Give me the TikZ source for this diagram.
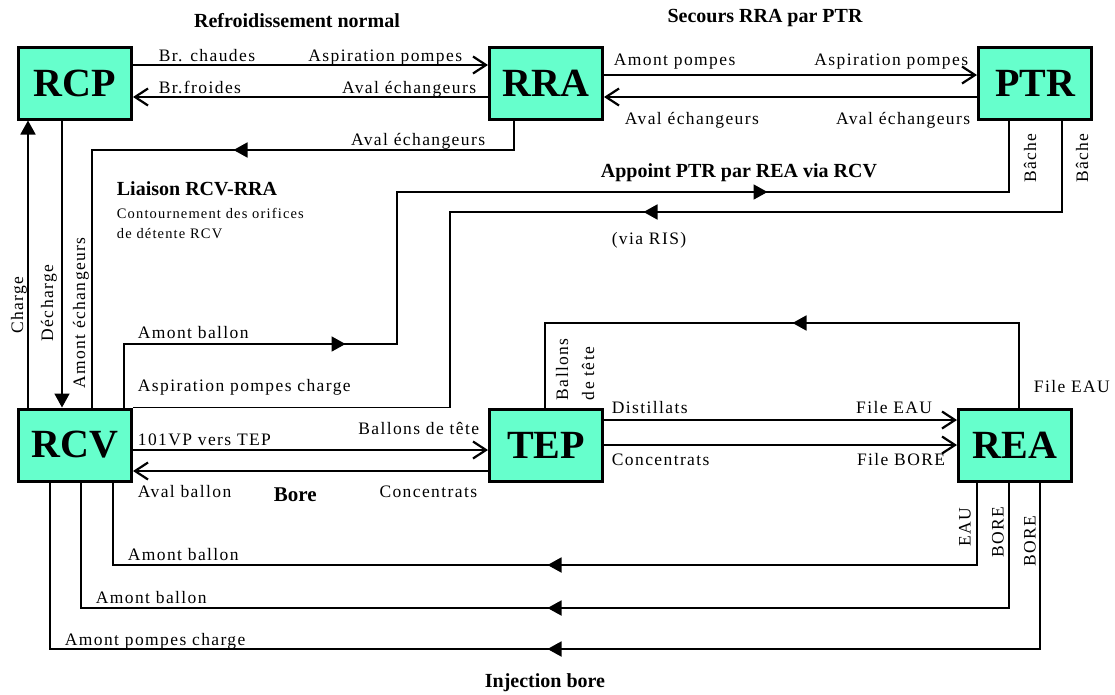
\documentclass[tikz,border=0pt]{standalone}
\usepackage{fontspec}
\setmainfont{Liberation Serif}
\newfontfamily\lblfont[LetterSpace=8]{Liberation Serif}
\usetikzlibrary{positioning,arrows.meta,decorations.markings}
\definecolor{boxfill}{RGB}{102,255,204}

\begin{document}
\begin{tikzpicture}[x=1pt,y=-1pt,line width=1.8pt,on grid,
   unit/.style={draw,line width=3pt,fill=boxfill,minimum width=113pt,minimum height=72pt,
     inner sep=0pt,font=\fontsize{40}{40}\selectfont\bfseries},
   open/.style={-{Straight Barb[length=13pt,width=17pt,line width=2.2pt]}},
   full/.style={-{Triangle[length=14pt,width=15pt]}},
   mid/.style={postaction={decorate,decoration={markings,
     mark=at position #1 with {\arrow{Triangle[length=14pt,width=15pt]}}}}}]
 \useasboundingbox (0,0) rectangle (1115,694);
 \node[unit] (RCP) at (75,83) {RCP};
 \node[unit] (RRA) [right=471pt of RCP] {RRA};
 \node[unit] (PTR) [right=489pt of RRA] {PTR};
 \node[unit] (RCV) [below=362pt of RCP] {RCV};
 \node[unit] (TEP) [right=471pt of RCV] {TEP};
 \node[unit] (REA) [right=469pt of TEP] {REA};
 % liaisons
 \draw[open] (RCP.east |- 0,65) -- (RRA.west |- 0,65);
 \draw[open] (RRA.west |- 0,97) -- (RCP.east |- 0,97);
 \draw[open] (RRA.east |- 0,75) -- (PTR.west |- 0,75);
 \draw[open] (PTR.west |- 0,97) -- (RRA.east |- 0,97);
 \draw[full] (RCV.north -| 28,0) -- (RCP.south -| 28,0);
 \draw[full] (RCP.south -| 62,0) -- (RCV.north -| 62,0);
 \draw[mid=310pt] (RRA.south -| 514,0) |- (92,150) -- (RCV.north -| 92,0);
 \draw[mid=285pt,mid=859pt] (RCV.north -| 124,0) |- (397,344) |- (1009,192) -- (PTR.south -| 1009,0);
 \draw[mid=510pt] (PTR.south -| 1062,0) |- (450,212) |- (RCV.north east);
 \draw[open] (RCV.east |- 0,450) -- (TEP.west |- 0,450);
 \draw[open] (TEP.west |- 0,471) -- (RCV.east |- 0,471);
 \draw[open] (TEP.east |- 0,420) -- (REA.west |- 0,420);
 \draw[open] (TEP.east |- 0,445) -- (REA.west |- 0,445);
 \draw[mid=311pt] (REA.north -| 1019,0) |- (545,323) -- (TEP.north -| 545,0);
 \draw[mid=512pt] (REA.south -| 977,0) |- (113,565) -- (RCV.south -| 113,0);
 \draw[mid=587pt] (REA.south -| 1009,0) |- (81,608) -- (RCV.south -| 81,0);
 \draw[mid=659pt] (REA.south -| 1040,0) |- (50,649) -- (RCV.south -| 50,0);
 % textes
 \tikzset{every node/.style={inner sep=0pt,font=\lblfont\fontsize{17.5}{19}\selectfont},
   titre/.style={font=\fontsize{20}{22}\selectfont\bfseries},
   petit/.style={font=\lblfont\fontsize{14.5}{16}\selectfont}}
 \node[titre,anchor=base] (tRefr) at (297,27) {Refroidissement normal};
 \node[titre,anchor=base] (tSec) at (765,22) {Secours RRA par PTR};
 \node[titre,anchor=base west] (tLiai) at (116,195) {Liaison RCV-RRA};
 \node[petit,anchor=base west] (tCont) at (116,218) {Contournement des orifices};
 \node[petit,anchor=base west] (tDet) at (116,238) {de détente RCV};
 \node[titre,anchor=base west] (tApp) at (600,177) {Appoint PTR par REA via RCV};
 \node[titre,anchor=base] (tInj) at (545,687) {Injection bore};
 \node[font=\fontsize{21}{22}\selectfont\bfseries,anchor=base west] (tBore) at (273,501) {Bore};
 \node[anchor=base west] (lBrc) at (158,61) {Br. chaudes};
 \node[anchor=base east] (lAsp1) at (463,61) {Aspiration pompes};
 \node[anchor=base west] (lBrf) at (158,93) {Br.froides};
 \node[anchor=base east] (lAval1) at (477,93) {Aval échangeurs};
 \node[anchor=base west] (lAmp) at (613,65) {Amont pompes};
 \node[anchor=base east] (lAsp2) at (969,65) {Aspiration pompes};
 \node[anchor=base west] (lAval2) at (624,124) {Aval échangeurs};
 \node[anchor=base east] (lAval3) at (971,124) {Aval échangeurs};
 \node[anchor=base east] (lAval4) at (486,145) {Aval échangeurs};
 \node[rotate=90] (lCh) at (19,305) {Charge};
 \node[rotate=90] (lDech) at (49,303) {Décharge};
 \node[rotate=90] (lAmE) at (81,313) {Amont échangeurs};
 \node[rotate=90] (lBa1) at (1030,158) {Bâche};
 \node[rotate=90] (lBa2) at (1082,158) {Bâche};
 \node (lRis) at (649,240) {(via RIS)};
 \node[anchor=base west] (lAmb1) at (137,338) {Amont ballon};
 \node[anchor=base west] (lAspc) at (137,391) {Aspiration pompes charge};
 \node[rotate=90,anchor=north west,align=left,font=\lblfont\fontsize{17.5}{26}\selectfont] (lBt1) at (555,401) {Ballons\\de tête};
 \node[anchor=base west] (lFe1) at (1033,392) {File EAU};
 \node[anchor=base west] (lDist) at (611,413) {Distillats};
 \node[anchor=base east] (lFe2) at (933,413) {File EAU};
 \node[anchor=base west] (lConc1) at (611,465) {Concentrats};
 \node[anchor=base east] (lFb) at (946,465) {File BORE};
 \node[anchor=base west] (l101) at (137,445) {101VP vers TEP};
 \node[anchor=base east] (lBt2) at (480,434) {Ballons de tête};
 \node[anchor=base west] (lAvb) at (137,497) {Aval ballon};
 \node[anchor=base east] (lConc2) at (478,497) {Concentrats};
 \node[rotate=90] (lEau) at (965,527) {EAU};
 \node[rotate=90] (lBo1) at (998,532) {BORE};
 \node[rotate=90] (lBo2) at (1030,541) {BORE};
 \node[anchor=base west] (lAmb2) at (127,560) {Amont ballon};
 \node[anchor=base west] (lAmb3) at (95,603) {Amont ballon};
 \node[anchor=base west] (lAmpc) at (64,645) {Amont pompes charge};
\end{tikzpicture}
\end{document}
